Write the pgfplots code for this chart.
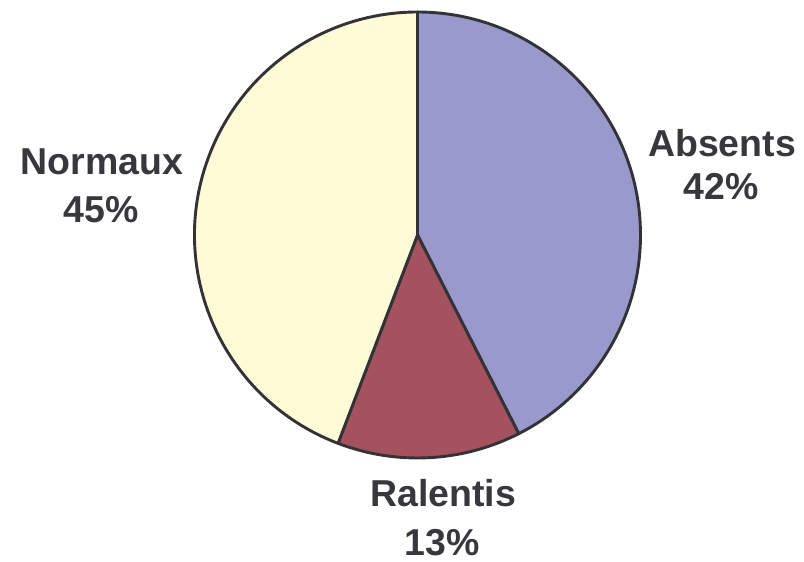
\documentclass[border=0pt]{standalone}
\usepackage{pgfplots}
\pgfplotsset{compat=1.18}
\usepackage{fontspec}
\setmainfont{Liberation Sans}
\definecolor{cAbs}{RGB}{153,153,204}
\definecolor{cRal}{RGB}{165,82,95}
\definecolor{cNor}{RGB}{255,251,215}
\definecolor{cTxt}{RGB}{55,55,60}
\definecolor{cEdge}{RGB}{50,50,55}
% slice shares (percent of the full circle)
\def\vAbs{42.5}
\def\vRal{13.3}
\def\vNor{44.2}
\def\cx{417.5}\def\cy{327}\def\rr{223}
\pgfmathsetmacro\aA{90}
\pgfmathsetmacro\aB{90-\vAbs*3.6}
\pgfmathsetmacro\aC{\aB-\vRal*3.6}
\pgfmathsetmacro\aD{\aC-\vNor*3.6}
\begin{document}
\begin{tikzpicture}
\begin{axis}[scale only axis, width=804bp, height=562bp,
  xmin=0, xmax=804, ymin=0, ymax=562, hide axis, clip=false]
\path (axis cs:0,0) rectangle (axis cs:804,562);
\filldraw[fill=cAbs, draw=cEdge, line width=2.9bp, line join=round]
  (axis cs:\cx,\cy) -- ++(\aA:\rr bp) arc[start angle=\aA, end angle=\aB, radius=\rr bp] -- cycle;
\filldraw[fill=cRal, draw=cEdge, line width=2.9bp, line join=round]
  (axis cs:\cx,\cy) -- ++(\aB:\rr bp) arc[start angle=\aB, end angle=\aC, radius=\rr bp] -- cycle;
\filldraw[fill=cNor, draw=cEdge, line width=2.9bp, line join=round]
  (axis cs:\cx,\cy) -- ++(\aC:\rr bp) arc[start angle=\aC, end angle=\aD, radius=\rr bp] -- cycle;
\tikzset{lbl/.style={anchor=base, text=cTxt, font=\bfseries\fontsize{37.6}{45}\selectfont, inner sep=0pt}}
\node[lbl] at (axis cs:102,387) {Normaux};
\node[lbl] at (axis cs:101,339) {45\%};
\node[lbl] at (axis cs:722,405.3) {Absents};
\node[lbl] at (axis cs:721,362.7) {42\%};
\node[lbl] at (axis cs:443,55.3) {Ralentis};
\node[lbl] at (axis cs:442,7) {13\%};
\end{axis}
\end{tikzpicture}
\end{document}
